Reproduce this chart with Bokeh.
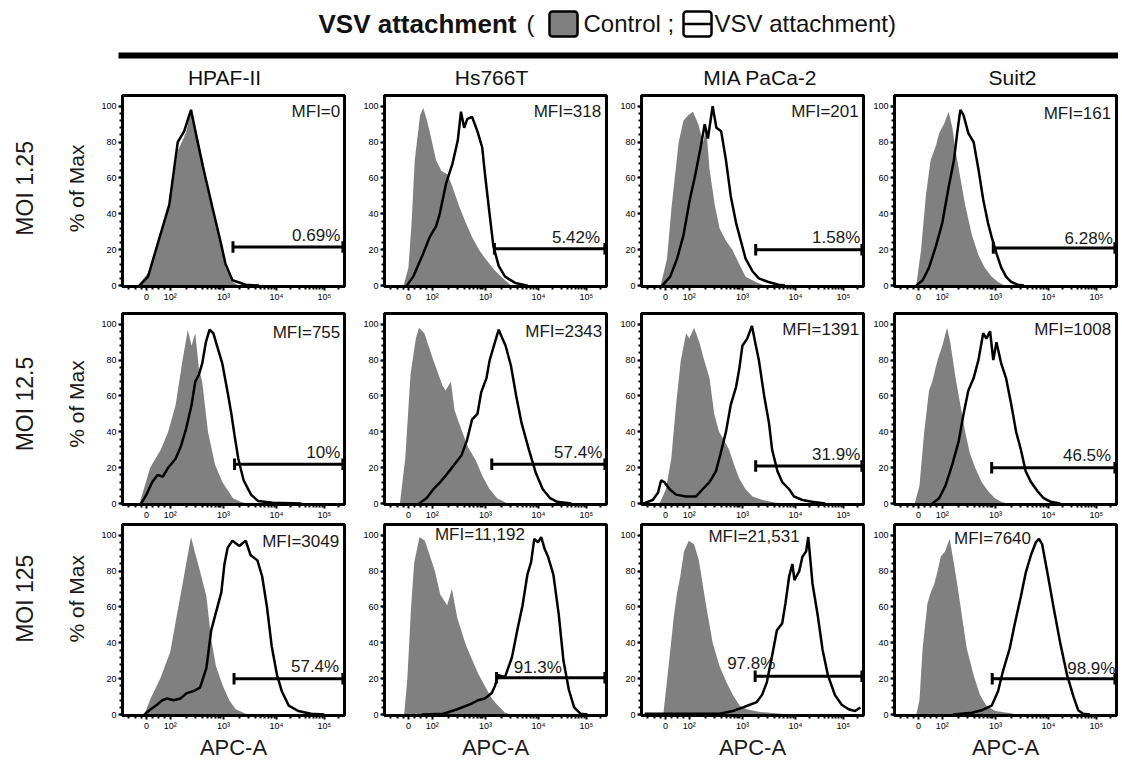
import math
from bokeh.plotting import figure
from bokeh.layouts import column, row
from bokeh.models import Range1d, FixedTicker
from bokeh.core.properties import value
from bokeh.embed import file_html
from bokeh.resources import INLINE

FONT = "Liberation Sans, Arial, sans-serif"

# ---------------- data ----------------
cell_lines = ["HPAF-II", "Hs766T", "MIA PaCa-2", "Suit2"]
moi_labels = ["MOI 1.25", "MOI 12.5", "MOI 125"]
y_axis_title = "% of Max"
x_axis_title = "APC-A"
x_tick_pos = [1.55, 2.0, 3.0, 4.0, 4.9]
x_tick_labels = ["0", "10²", "10³", "10⁴", "10⁵"]
y_ticks = [0, 20, 40, 60, 80, 100]

mfi_text = [["MFI=0", "MFI=318", "MFI=201", "MFI=161"],
            ["MFI=755", "MFI=2343", "MFI=1391", "MFI=1008"],
            ["MFI=3049", "MFI=11,192", "MFI=21,531", "MFI=7640"]]
pct_text = [["0.69%", "5.42%", "1.58%", "6.28%"],
            ["10%", "57.4%", "31.9%", "46.5%"],
            ["57.4%", "91.3%", "97.8%", "98.9%"]]
gate_start = [[3.18, 3.17, 3.25, 2.96],
              [3.21, 3.12, 3.25, 2.93],
              [3.20, 3.21, 3.24, 2.94]]
gate_level = [[21.5, 20.5, 20, 21],
              [22, 22, 21, 20],
              [20, 20.5, 21.4, 20]]

# histograms (x in display units of the APC-A axis, y in % of max)
c00_ctrl_x = [1.39, 1.61, 1.79, 1.98, 2.14, 2.29, 2.39, 2.48, 2.61, 2.79, 2.92, 3.04, 3.17, 3.29]
c00_ctrl_y = [0, 8, 25, 45, 75, 85, 97, 88, 70, 42, 27, 10, 2, 0]
c00_vsv_x = [1.42, 1.58, 1.79, 1.98, 2.14, 2.26, 2.39, 2.48, 2.61, 2.79, 2.95, 3.04, 3.17, 3.42, 3.67]
c00_vsv_y = [0, 5, 26, 45, 80, 86, 98, 85, 67, 44, 24, 12, 3, 0.5, 0]

c01_ctrl_x = [1.46, 1.55, 1.61, 1.67, 1.77, 1.83, 1.90, 1.98, 2.07, 2.17, 2.29, 2.38, 2.51, 2.63, 2.75, 2.88, 3.00, 3.19, 3.37, 3.49]
c01_ctrl_y = [0, 10, 35, 70, 95, 99, 92, 82, 70, 64, 62, 55, 44, 35, 27, 20, 15, 8, 3, 0]
c01_vsv_x = [1.52, 1.64, 1.83, 1.95, 2.07, 2.14, 2.26, 2.38, 2.48, 2.54, 2.60, 2.66, 2.75, 2.85, 2.94, 3.00, 3.09, 3.15, 3.25, 3.37, 3.56, 3.80]
c01_vsv_y = [0, 5, 18, 27, 33, 40, 57, 68, 81, 97, 88, 93, 94, 86, 77, 60, 37, 22, 11, 5, 1.5, 0]

c02_ctrl_x = [1.46, 1.58, 1.67, 1.80, 1.89, 1.98, 2.07, 2.17, 2.26, 2.32, 2.38, 2.48, 2.57, 2.69, 2.81, 2.94, 3.06, 3.25, 3.43]
c02_ctrl_y = [0, 15, 45, 80, 92, 95, 97, 90, 80, 88, 65, 45, 32, 25, 20, 12, 5, 2, 0]
c02_vsv_x = [1.49, 1.64, 1.77, 1.89, 2.01, 2.10, 2.20, 2.29, 2.35, 2.44, 2.51, 2.60, 2.69, 2.78, 2.88, 2.97, 3.06, 3.19, 3.31, 3.49, 3.68, 3.80]
c02_vsv_y = [0, 5, 15, 28, 48, 60, 75, 90, 82, 100, 88, 86, 70, 50, 35, 25, 15, 8, 4, 2, 0.5, 0]

c03_ctrl_x = [1.51, 1.60, 1.69, 1.78, 1.88, 1.94, 2.03, 2.12, 2.19, 2.25, 2.34, 2.43, 2.56, 2.68, 2.80, 2.93, 3.05, 3.17]
c03_ctrl_y = [0, 20, 50, 70, 78, 85, 90, 97, 88, 75, 60, 45, 28, 17, 10, 5, 2, 0]
c03_vsv_x = [1.51, 1.63, 1.75, 1.88, 2.00, 2.12, 2.22, 2.28, 2.34, 2.40, 2.49, 2.59, 2.68, 2.77, 2.86, 2.93, 3.02, 3.11, 3.20, 3.30, 3.42, 3.54]
c03_vsv_y = [0, 3, 10, 22, 35, 55, 70, 85, 98, 95, 85, 80, 65, 48, 35, 27, 18, 10, 5, 2, 0.5, 0]

c10_ctrl_x = [1.42, 1.52, 1.62, 1.72, 1.82, 1.96, 2.10, 2.23, 2.33, 2.40, 2.47, 2.54, 2.60, 2.71, 2.84, 2.98, 3.18, 3.32, 3.45]
c10_ctrl_y = [0, 10, 20, 25, 30, 40, 55, 80, 97, 88, 95, 75, 68, 40, 22, 12, 3, 1, 0]
c10_vsv_x = [1.45, 1.55, 1.66, 1.76, 1.86, 1.96, 2.10, 2.20, 2.30, 2.40, 2.47, 2.54, 2.60, 2.67, 2.74, 2.81, 2.88, 2.98, 3.08, 3.15, 3.21, 3.28, 3.38, 3.52, 3.65, 3.93, 4.47]
c10_vsv_y = [0, 5, 12, 16, 15, 20, 25, 32, 42, 55, 68, 72, 78, 90, 97, 95, 88, 78, 62, 50, 38, 25, 13, 5, 1.5, 0.5, 0]

c11_ctrl_x = [1.39, 1.49, 1.59, 1.69, 1.75, 1.85, 2.02, 2.19, 2.25, 2.35, 2.42, 2.55, 2.68, 2.82, 2.95, 3.08, 3.22, 3.42]
c11_ctrl_y = [0, 25, 72, 92, 98, 95, 80, 66, 63, 68, 52, 41, 31, 24, 15, 8, 3, 0]
c11_vsv_x = [1.75, 1.89, 2.02, 2.15, 2.29, 2.42, 2.55, 2.65, 2.75, 2.85, 2.92, 3.02, 3.08, 3.18, 3.25, 3.32, 3.38, 3.48, 3.58, 3.68, 3.82, 3.95, 4.08, 4.22, 4.35, 4.62]
c11_vsv_y = [0, 3, 8, 12, 17, 22, 27, 35, 47, 50, 62, 70, 80, 90, 97, 92, 88, 77, 60, 45, 30, 17, 8, 3, 1, 0]

c12_ctrl_x = [1.44, 1.56, 1.66, 1.75, 1.84, 1.94, 2.00, 2.09, 2.19, 2.28, 2.38, 2.47, 2.56, 2.66, 2.75, 2.84, 2.94, 3.06, 3.19, 3.38, 3.63, 3.81]
c12_ctrl_y = [0, 8, 25, 55, 80, 95, 92, 98, 90, 80, 70, 50, 40, 35, 30, 22, 14, 8, 4, 2, 0.5, 0]
c12_vsv_x = [1.13, 1.31, 1.41, 1.47, 1.53, 1.63, 1.75, 1.94, 2.13, 2.25, 2.38, 2.50, 2.59, 2.69, 2.78, 2.88, 2.94, 3.00, 3.09, 3.18, 3.24, 3.31, 3.41, 3.50, 3.56, 3.66, 3.75, 3.88, 3.97, 4.13, 4.31, 4.56]
c12_vsv_y = [0, 2, 6, 13, 12, 8, 5, 4, 4, 8, 12, 18, 28, 40, 55, 65, 75, 88, 92, 99, 90, 80, 60, 45, 30, 18, 12, 8, 4, 2, 1, 0]

c13_ctrl_x = [1.48, 1.57, 1.66, 1.75, 1.81, 1.91, 2.00, 2.09, 2.15, 2.25, 2.34, 2.43, 2.52, 2.62, 2.74, 2.86, 2.99, 3.11, 3.23]
c13_ctrl_y = [0, 10, 40, 63, 68, 80, 88, 98, 90, 70, 55, 40, 28, 20, 12, 7, 3, 1, 0]
c13_vsv_x = [1.81, 1.94, 2.06, 2.19, 2.31, 2.40, 2.49, 2.59, 2.68, 2.77, 2.83, 2.90, 2.96, 3.02, 3.11, 3.20, 3.30, 3.39, 3.48, 3.57, 3.67, 3.79, 3.91, 4.04, 4.22]
c13_vsv_y = [0, 3, 10, 22, 35, 50, 63, 70, 80, 95, 92, 96, 80, 90, 78, 70, 55, 40, 30, 18, 12, 7, 3, 1, 0]

c20_ctrl_x = [1.51, 1.63, 1.81, 2.00, 2.12, 2.22, 2.31, 2.39, 2.46, 2.56, 2.68, 2.77, 2.86, 2.99, 3.11, 3.23, 3.42, 3.60]
c20_ctrl_y = [0, 9, 20, 35, 55, 71, 86, 99, 91, 80, 66, 42, 27, 16, 8, 3, 0.5, 0]
c20_vsv_x = [1.51, 1.63, 1.75, 1.85, 1.94, 2.06, 2.19, 2.31, 2.43, 2.56, 2.68, 2.77, 2.86, 2.96, 3.02, 3.08, 3.17, 3.30, 3.42, 3.51, 3.64, 3.73, 3.82, 3.91, 4.01, 4.10, 4.23, 4.41, 4.65, 4.90]
c20_vsv_y = [0, 3, 5.5, 8, 9, 8, 9, 12, 13, 15, 26, 47, 57, 68, 84, 93, 97, 94, 97, 89, 86, 77, 60, 38, 22, 13, 5, 2, 0.5, 0]

c21_ctrl_x = [1.47, 1.53, 1.60, 1.66, 1.76, 1.86, 1.95, 2.05, 2.15, 2.28, 2.37, 2.47, 2.63, 2.73, 2.86, 2.99, 3.12, 3.24, 3.37, 3.50]
c21_ctrl_y = [0, 20, 60, 85, 99, 97, 89, 80, 67, 61, 70, 54, 39, 32, 23, 16, 9, 5, 1, 0]
c21_vsv_x = [1.80, 2.21, 2.47, 2.73, 2.86, 2.99, 3.12, 3.18, 3.24, 3.37, 3.50, 3.60, 3.70, 3.79, 3.86, 3.92, 3.99, 4.05, 4.12, 4.18, 4.28, 4.38, 4.47, 4.57, 4.67, 4.79, 4.92]
c21_vsv_y = [0, 0.5, 3, 6, 8, 9, 12, 16, 22, 21, 32, 47, 61, 78, 85, 98, 96, 99, 92, 88, 78, 56, 30, 14, 4, 0.5, 0]

c22_ctrl_x = [1.51, 1.61, 1.71, 1.77, 1.83, 1.90, 1.99, 2.09, 2.18, 2.31, 2.44, 2.57, 2.70, 2.82, 2.95, 3.08, 3.33, 3.72, 3.84]
c22_ctrl_y = [0, 27, 55, 68, 77, 91, 97, 95, 86, 62, 40, 27, 18, 11, 5, 3, 1.5, 0.5, 0]
c22_vsv_x = [1.16, 2.57, 2.82, 3.01, 3.14, 3.27, 3.37, 3.46, 3.56, 3.65, 3.75, 3.81, 3.88, 3.94, 3.98, 4.07, 4.13, 4.20, 4.24, 4.32, 4.42, 4.51, 4.61, 4.74, 4.87, 5.00, 5.12, 5.22]
c22_vsv_y = [0.5, 0.5, 2, 4, 5.5, 7, 11, 18, 33, 47, 51, 62, 77, 84, 75, 80, 88, 91, 99, 73, 55, 36, 22, 11, 5.5, 3, 2, 4]

c23_ctrl_x = [1.51, 1.57, 1.63, 1.72, 1.78, 1.85, 1.91, 1.97, 2.05, 2.14, 2.22, 2.28, 2.37, 2.46, 2.59, 2.71, 2.83, 3.00, 3.23, 3.42]
c23_ctrl_y = [0, 8, 37, 62, 68, 73, 80, 88, 91, 98, 84, 73, 55, 37, 22, 11, 5, 2, 1, 0]
c23_vsv_x = [2.20, 2.56, 2.74, 2.93, 3.05, 3.14, 3.27, 3.36, 3.48, 3.57, 3.67, 3.76, 3.82, 3.88, 3.98, 4.10, 4.22, 4.35, 4.47, 4.56, 4.65, 4.78]
c23_vsv_y = [0, 1, 2.4, 5, 13, 24, 37, 50, 66, 79, 89, 96, 98, 95, 79, 59, 40, 22, 10, 2.4, 0.5, 0]

histograms = [
    [(c00_ctrl_x, c00_ctrl_y, c00_vsv_x, c00_vsv_y), (c01_ctrl_x, c01_ctrl_y, c01_vsv_x, c01_vsv_y),
     (c02_ctrl_x, c02_ctrl_y, c02_vsv_x, c02_vsv_y), (c03_ctrl_x, c03_ctrl_y, c03_vsv_x, c03_vsv_y)],
    [(c10_ctrl_x, c10_ctrl_y, c10_vsv_x, c10_vsv_y), (c11_ctrl_x, c11_ctrl_y, c11_vsv_x, c11_vsv_y),
     (c12_ctrl_x, c12_ctrl_y, c12_vsv_x, c12_vsv_y), (c13_ctrl_x, c13_ctrl_y, c13_vsv_x, c13_vsv_y)],
    [(c20_ctrl_x, c20_ctrl_y, c20_vsv_x, c20_vsv_y), (c21_ctrl_x, c21_ctrl_y, c21_vsv_x, c21_vsv_y),
     (c22_ctrl_x, c22_ctrl_y, c22_vsv_x, c22_vsv_y), (c23_ctrl_x, c23_ctrl_y, c23_vsv_x, c23_vsv_y)],
]

# ---------------- label placement (layout, not data) ----------------
mfi_pos_x = [[5.2, 5.18, 5.19, 5.18], [5.2, 5.2, 5.2, 5.18], [5.18, 2.05, 2.36, 2.22]]
mfi_pos_y = [[97.3, 96.8, 97.3, 95.8], [95.3, 96.0, 96.9, 97.3], [96.3, 100.3, 99.1, 98.3]]
mfi_anchor = [["right"] * 4, ["right"] * 4, ["right", "left", "left", "left"]]
pct_pos_x = [[5.2, 5.16, 5.22, 5.21], [5.2, 5.2, 5.22, 5.18], [5.18, 4.44, 3.62, 5.26]]
pct_pos_y = [[27.8, 26.8, 26.8, 26.3], [28.3, 28.3, 27.3, 27.0], [26.7, 26.3, 28.3, 25.6]]
row_label_y = [106, 100, 93]      # centre of the row labels inside each label strip (px from top)

X_LO, X_HI = 1.1, 5.28
Y_LO, Y_HI = -0.5, 106
FRAME_W, FRAME_H = 222, 191
BORDER_L = [30, 36, 31, 27]
BORDER_R = [4, 4, 4, 2]
BORDER_T = 1
BORDER_B = [26, 19, 46]
LABEL_W = 92

x_minor = [1.22, 1.34, 1.46, 1.66, 1.78, 1.9]
for d in (2, 3):
    x_minor += [d + math.log10(k) for k in range(2, 10)]
x_minor += [4 + 0.9 * math.log10(k) for k in range(2, 10)]
x_minor += [4.9 + 0.9 * math.log10(k) for k in range(2, 4)]
y_minor = list(range(0, 104, 4))

GRAY = "#808080"
TXT = "#1a1a1a"


def make_panel(r, c):
    cx, cy, vx, vy = histograms[r][c]
    p = figure(frame_width=FRAME_W, frame_height=FRAME_H,
               x_range=Range1d(X_LO, X_HI), y_range=Range1d(Y_LO, Y_HI),
               min_border_left=BORDER_L[c], min_border_right=BORDER_R[c],
               min_border_top=BORDER_T, min_border_bottom=BORDER_B[r],
               toolbar_location=None, output_backend="svg")
    p.xgrid.visible = False
    p.ygrid.visible = False
    p.outline_line_color = "black"
    p.outline_line_width = 3
    p.background_fill_color = "white"
    p.border_fill_color = "white"

    p.varea(x=cx, y1=[0] * len(cx), y2=cy, fill_color=GRAY, fill_alpha=1.0)
    p.line(x=vx, y=vy, line_color="black", line_width=2.5)

    gs, gl = gate_start[r][c], gate_level[r][c]
    p.segment(x0=[gs, gs, X_HI - 0.03], y0=[gl, gl - 3.2, gl - 3.2],
              x1=[X_HI - 0.03, gs, X_HI - 0.03], y1=[gl, gl + 3.2, gl + 3.2],
              line_color="black", line_width=3)

    p.text(x=[pct_pos_x[r][c]], y=[pct_pos_y[r][c]], text=[pct_text[r][c]],
           text_font=value(FONT), text_font_size="17px", text_color=TXT,
           text_align="right", text_baseline="middle")
    p.text(x=[mfi_pos_x[r][c]], y=[mfi_pos_y[r][c]], text=[mfi_text[r][c]],
           text_font=value(FONT), text_font_size="17px", text_color=TXT,
           text_align=mfi_anchor[r][c], text_baseline="middle")

    for ax in (p.xaxis[0], p.yaxis[0]):
        ax.axis_line_width = 3
        ax.axis_line_color = "black"
        ax.major_tick_line_width = 2
        ax.minor_tick_line_width = 2
        ax.major_tick_out = 4
        ax.major_tick_in = 0
        ax.minor_tick_out = 3
        ax.minor_tick_in = 0
        ax.major_label_text_font = FONT
        ax.major_label_text_font_size = "9px"
        ax.major_label_text_color = "black"
        ax.major_label_standoff = 2
    p.xaxis.ticker = FixedTicker(ticks=x_tick_pos, minor_ticks=x_minor)
    p.xaxis.major_label_overrides = {t: l for t, l in zip(x_tick_pos, x_tick_labels)}
    p.yaxis.ticker = FixedTicker(ticks=y_ticks, minor_ticks=y_minor)
    p.xaxis.major_label_standoff = 1

    if r == 2:
        p.xaxis.axis_label = x_axis_title
        p.xaxis.axis_label_text_font = FONT
        p.xaxis.axis_label_text_font_size = "22px"
        p.xaxis.axis_label_text_font_style = "normal"
        p.xaxis.axis_label_text_color = TXT
        p.xaxis.axis_label_standoff = 1
    return p


def make_row_label(r):
    h = BORDER_T + FRAME_H + BORDER_B[r]
    q = figure(width=LABEL_W, height=h, x_range=Range1d(0, LABEL_W), y_range=Range1d(h, 0),
               min_border=0, toolbar_location=None, output_backend="svg",
               x_axis_type=None, y_axis_type=None)
    q.outline_line_color = None
    q.text(x=[24], y=[row_label_y[r]], text=[moi_labels[r]], angle=math.pi / 2,
           text_font=value(FONT), text_font_size="23px", text_color=TXT,
           text_align="center", text_baseline="middle")
    q.text(x=[76], y=[row_label_y[r]], text=[y_axis_title], angle=math.pi / 2,
           text_font=value(FONT), text_font_size="21px", text_color=TXT,
           text_align="center", text_baseline="middle")
    return q


HEADER_W, HEADER_H = 1118, 94
hdr = figure(width=HEADER_W, height=HEADER_H, x_range=Range1d(0, HEADER_W), y_range=Range1d(HEADER_H, 0),
             min_border=0, toolbar_location=None, output_backend="svg",
             x_axis_type=None, y_axis_type=None)
hdr.outline_line_color = None
hdr.text(x=[318], y=[23], text=["VSV attachment"], text_font=value(FONT), text_font_size="26px",
         text_font_style="bold", text_color="#111111", text_align="left", text_baseline="middle")
hdr.text(x=[526, 583, 714], y=[23, 23, 23], text=["(", "Control ;", "VSV attachment)"],
         text_font=value(FONT), text_font_size="24px", text_color="#111111",
         text_align="left", text_baseline="middle")
hdr.quad(left=[549], right=[577], top=[11], bottom=[36], fill_color=GRAY,
         line_color="black", line_width=2.5, border_radius=3)
hdr.quad(left=[683], right=[711], top=[11], bottom=[36], fill_color="white",
         line_color="black", line_width=2.5, border_radius=3)
hdr.segment(x0=[683], y0=[23.5], x1=[711], y1=[23.5], line_color="black", line_width=2.5)
hdr.quad(left=[118], right=[HEADER_W], top=[52], bottom=[58], fill_color="black", line_color=None)
hdr.text(x=[224, 491, 760, 1012], y=[77, 77, 77, 77], text=cell_lines,
         text_font=value(FONT), text_font_size="21px", text_color="#111111",
         text_align="center", text_baseline="middle")

rows = [hdr]
for r in range(3):
    rows.append(row([make_row_label(r)] + [make_panel(r, c) for c in range(4)], spacing=0))
layout = column(rows, spacing=0)

open("out.html", "w").write(file_html(layout, INLINE))
